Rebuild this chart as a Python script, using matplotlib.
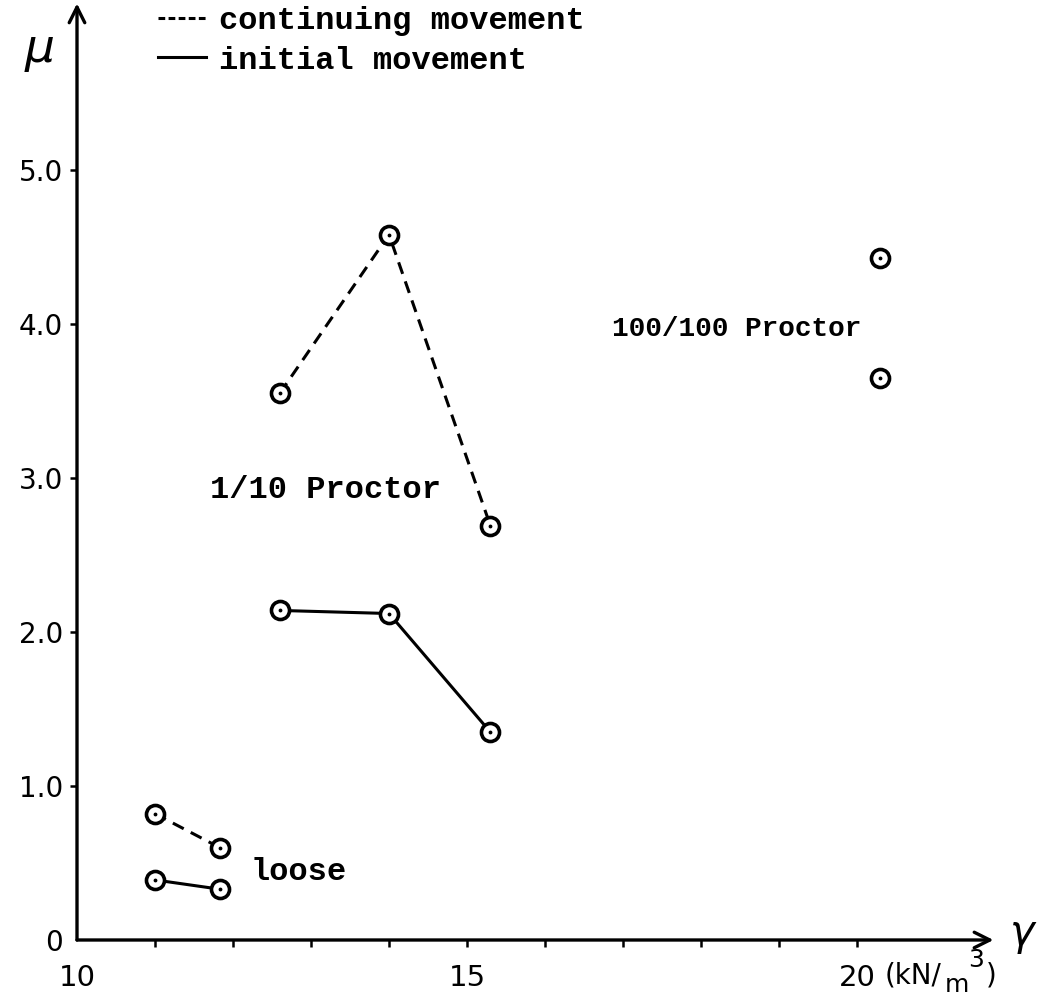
import matplotlib
matplotlib.use("Agg")
import matplotlib.pyplot as plt
from matplotlib.lines import Line2D

# unit weight gamma (kN/m3) and friction coefficient mu
loose_x = [11.0, 11.83]
loose_cont = [0.82, 0.60]
loose_init = [0.39, 0.33]

proc10_x = [12.6, 14.0, 15.3]
proc10_cont = [3.55, 4.58, 2.69]
proc10_init = [2.14, 2.12, 1.35]

proc100_x = [20.3, 20.3]
proc100_y = [4.43, 3.65]

xtick_vals = list(range(10, 21))
xtick_labels = ['10', '', '', '', '', '15', '', '', '', '', '20']
ytick_vals = [0, 1, 2, 3, 4, 5]
ytick_labels = ['0', '1.0', '2.0', '3.0', '4.0', '5.0']

mono = ['Liberation Mono', 'DejaVu Sans Mono']
narrow = ['Liberation Sans Narrow', 'DejaVu Sans']

W, H = 1051, 996
fig = plt.figure(figsize=(W / 100, H / 100), dpi=100)
x0, y0 = 77, 940
px_x, px_y = 78.0, 154.0
xmax, ymax = 21.75, 6.1
ax = fig.add_axes([x0 / W, (H - y0) / H, (xmax - 10) * px_x / W, ymax * px_y / H])
ax.set_xlim(10, xmax)
ax.set_ylim(0, ymax)
for s in ax.spines.values():
    s.set_visible(False)

# axes with arrows
ax.annotate('', xy=(1.0, 0), xytext=(0, 0), xycoords='axes fraction',
            arrowprops=dict(arrowstyle='->', lw=2.4, mutation_scale=28, color='black',
                            shrinkA=0, shrinkB=0))
ax.annotate('', xy=(0, 0.997), xytext=(0, 0), xycoords='axes fraction',
            arrowprops=dict(arrowstyle='->', lw=2.4, mutation_scale=28, color='black',
                            shrinkA=0, shrinkB=0))

ax.set_xticks(xtick_vals)
ax.set_xticklabels(xtick_labels, family=narrow, fontsize=21)
ax.set_yticks(ytick_vals)
ax.set_yticklabels(ytick_labels, fontsize=20)
ax.tick_params(axis='x', direction='out', length=5, width=1.8, pad=12)
ax.tick_params(axis='y', direction='out', length=5, width=1.8, pad=5)
ax.xaxis.get_major_ticks()[0].tick1line.set_visible(False)
ax.yaxis.get_major_ticks()[0].tick1line.set_visible(False)

lw = 2.2
dash = (0, (4.0, 2.6))
mk = dict(marker='o', markersize=13, markerfacecolor='white', markeredgecolor='black',
          markeredgewidth=2.6, color='black', lw=lw)
dot = dict(marker='.', markersize=3.5, color='black', linestyle='none')

ax.plot(loose_x, loose_cont, linestyle=dash, **mk)
ax.plot(loose_x, loose_init, linestyle='-', **mk)
ax.plot(proc10_x, proc10_cont, linestyle=dash, **mk)
ax.plot(proc10_x, proc10_init, linestyle='-', **mk)
ax.plot(proc100_x, proc100_y, linestyle='none', **mk)
for xs, ys in [(loose_x, loose_cont), (loose_x, loose_init), (proc10_x, proc10_cont),
               (proc10_x, proc10_init), (proc100_x, proc100_y)]:
    ax.plot(xs, ys, **dot)

# annotations
ax.text(11.7, 2.92, '1/10 Proctor', family=mono, fontsize=23, weight='bold',
        va='center', ha='left')
ax.text(16.86, 3.97, '100/100 Proctor', family=mono, fontsize=20, weight='bold',
        va='center', ha='left')
ax.text(12.22, 0.44, 'loose', family=mono, fontsize=23, weight='bold',
        va='center', ha='left')

fig.text(885 / W, 1 - 975 / H, '(kN/', family=narrow, fontsize=20, va='center', ha='left')
fig.text(945 / W, 1 - 985 / H, 'm', family=narrow, fontsize=18, va='center', ha='left')
fig.text(968 / W, 1 - 960 / H, '3', family=narrow, fontsize=18, va='center', ha='left')
fig.text(986 / W, 1 - 975 / H, ')', family=narrow, fontsize=20, va='center', ha='left')

fig.text(40 / W, 1 - 50 / H, 'μ', fontsize=34, style='italic', va='center', ha='center')
fig.text(1022 / W, 1 - 933 / H, 'γ', fontsize=30, style='italic', va='center', ha='center')

handles = [Line2D([], [], color='black', lw=lw, linestyle=(0, (2.2, 1.1))),
           Line2D([], [], color='black', lw=lw, linestyle='-')]
fig.legend(handles, ['continuing movement', 'initial movement'],
           loc='upper left', bbox_to_anchor=(158 / W, 1 - 6 / H), frameon=False,
           prop=dict(family=mono, size=23, weight='bold'), handlelength=1.5,
           handletextpad=0.4, labelspacing=0.3, borderpad=0, borderaxespad=0)

fig.savefig('out.png', dpi=100)
